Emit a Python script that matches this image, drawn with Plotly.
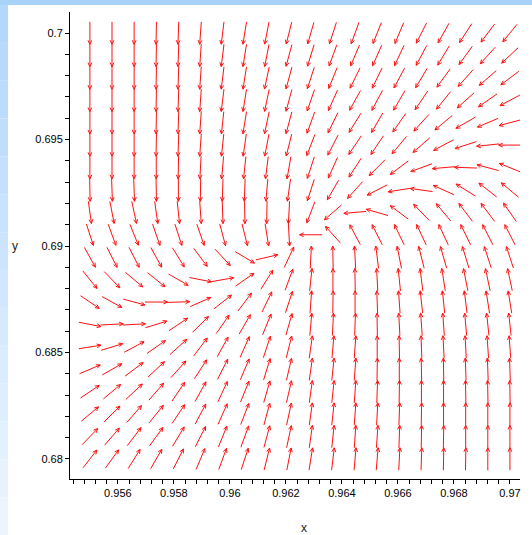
import math
import plotly.graph_objects as go

# ---------------- data ----------------
x_grid = [0.95500, 0.95579, 0.95658, 0.95737, 0.95816, 0.95895, 0.95974,
          0.96053, 0.96132, 0.96211, 0.96289, 0.96368, 0.96447, 0.96526,
          0.96605, 0.96684, 0.96763, 0.96842, 0.96921, 0.97000]
y_grid = [0.70000, 0.69895, 0.69789, 0.69684, 0.69579, 0.69474, 0.69368,
          0.69263, 0.69158, 0.69053, 0.68947, 0.68842, 0.68737, 0.68632,
          0.68526, 0.68421, 0.68316, 0.68211, 0.68105, 0.68000]

# arrow direction on screen, degrees (0 = right, 90 = up), rows top -> bottom
angle_deg = [
    [-90, -90, -90, -91, -92, -94, -97, -99, -101, -104, -106, -108, -110, -112, -113, -117, -119, -123, -127, -129],
    [-90, -90, -90, -91, -92, -94, -97, -99, -101, -105, -107, -110, -113, -114, -115, -118, -121, -126, -132, -137],
    [-90, -90, -90, -91, -92, -94, -97, -99, -102, -105, -108, -112, -116, -116, -118, -121, -126, -132, -139, -143],
    [-90, -90, -90, -91, -92, -94, -97, -99, -102, -105, -109, -114, -119, -118, -120, -124, -129, -138, -145, -152],
    [-90, -90, -90, -91, -92, -94, -96, -99, -102, -105, -110, -116, -122, -120, -125, -132, -140, -150, -157, -165],
    [-90, -90, -90, -91, -92, -94, -96, -98, -101, -104, -111, -117, -124, -124, -130, -139, -152, -162, -174, -180],
    [-90, -90, -90, -90, -91, -93, -95, -96, -97, -100, -108, -114, -123, -135, -143, -160, -175, 178, 165, 158],
    [-89, -88, -88, -89, -90, -91, -92, -92, -95, -98, -108, -120, -132, -153, -171, 172, 156, 148, 142, 140],
    [-82, -79, -78, -82, -84, -86, -88, -89, -91, -93, -111, -139, -175, 164, 143, 134, 130, 127, 127, 125],
    [-72, -70, -68, -71, -72, -71, -75, -76, -81, -87, 180, 132, 118, 117, 116, 115, 115, 116, 117, 117],
    [-61, -63, -63, -61, -58, -53, -47, -31, 13, 65, 87, 91, 93, 97, 101, 104, 106, 107, 108, 108],
    [-51, -46, -40, -39, -30, -11, 10, 35, 58, 70, 84, 90, 91, 93, 96, 97, 99, 101, 102, 102],
    [-34, -29, -15, 0, 2, 24, 38, 53, 64, 72, 86, 89, 90, 92, 94, 96, 96, 97, 99, 99],
    [-11, 3, 3, 17, 34, 45, 55, 60, 68, 74, 85, 87, 88, 91, 93, 94, 94, 95, 96, 96],
    [9, 17, 28, 35, 42, 53, 61, 66, 72, 76, 82, 85, 86, 90, 91, 92, 93, 93, 94, 94],
    [23, 30, 37, 43, 48, 57, 63, 67, 73, 77, 82, 84, 86, 89, 90, 91, 91, 92, 92, 92],
    [34, 40, 43, 49, 56, 61, 65, 68, 74, 77, 82, 84, 86, 88, 89, 90, 90, 91, 91, 91],
    [40, 45, 49, 51, 56, 62, 66, 69, 75, 78, 82, 84, 86, 87, 88, 89, 90, 90, 90, 90],
    [46, 49, 53, 54, 59, 63, 68, 70, 75, 78, 82, 84, 86, 86, 88, 89, 89, 90, 90, 90],
    [52, 54, 58, 60, 63, 67, 70, 72, 76, 79, 81, 83, 85, 85, 87, 88, 89, 89, 90, 90],
]

x_tick_vals = [0.956, 0.958, 0.96, 0.962, 0.964, 0.966, 0.968, 0.97]
x_tick_text = ["0.956", "0.958", "0.96", "0.962", "0.964", "0.966", "0.968", "0.97"]
y_tick_vals = [0.68, 0.685, 0.69, 0.695, 0.7]
y_tick_text = ["0.68", "0.685", "0.69", "0.695", "0.7"]

# ---------------- layout geometry / style ----------------
W, H = 532, 535
ML, MR, MT, MB = 70, 12, 12, 56
X_RANGE = [0.95429, 0.97036]
Y_RANGE = [0.67906, 0.70099]
PW, PH = W - ML - MR, H - MT - MB
px_per_x = PW / (X_RANGE[1] - X_RANGE[0])
px_per_y = PH / (Y_RANGE[1] - Y_RANGE[0])

ARROW_LEN = 22.5   # px
HEAD_LEN = 4.5     # px
HEAD_ANG = 25.0    # deg

xs, ys = [], []
for r, yv in enumerate(y_grid):
    for c, xv in enumerate(x_grid):
        a = math.radians(angle_deg[r][c])
        ux, uy = math.cos(a), math.sin(a)
        hx, hy = ux * ARROW_LEN / 2, uy * ARROW_LEN / 2
        tail = (xv - hx / px_per_x, yv - hy / px_per_y)
        tip = (xv + hx / px_per_x, yv + hy / px_per_y)
        xs += [tail[0], tip[0], None]
        ys += [tail[1], tip[1], None]
        for s in (1, -1):
            b = a + math.pi + s * math.radians(HEAD_ANG)
            bx = tip[0] + math.cos(b) * HEAD_LEN / px_per_x
            by = tip[1] + math.sin(b) * HEAD_LEN / px_per_y
            xs += [tip[0], bx, None]
            ys += [tip[1], by, None]

fig = go.Figure()
fig.add_trace(go.Scatter(x=xs, y=ys, mode="lines",
                         line=dict(color="#ff1010", width=1),
                         hoverinfo="skip", showlegend=False))

def pxp(px):
    return (px - ML) / PW

def pyp(py):
    return (H - MB - py) / PH

shapes = []
# top blue strip
shapes.append(dict(type="rect", xref="paper", yref="paper", layer="above",
                   x0=pxp(0), x1=pxp(W), y0=pyp(5), y1=pyp(0),
                   fillcolor="#a9d2fb", line=dict(width=0)))
# left gradient strip
n = 14
c0 = (0xb3, 0xd8, 0xfc)
c1 = (0xec, 0xf5, 0xfe)
for i in range(n):
    t = i / (n - 1)
    col = "rgb(%d,%d,%d)" % tuple(int(c0[k] + (c1[k] - c0[k]) * t) for k in range(3))
    y0p = 5 + (H - 5) * i / n
    y1p = 5 + (H - 5) * (i + 1) / n
    shapes.append(dict(type="rect", xref="paper", yref="paper", layer="above",
                       x0=pxp(0), x1=pxp(8), y0=pyp(y1p), y1=pyp(y0p),
                       fillcolor=col, line=dict(width=0)))

font = dict(family="Liberation Sans, Arial, sans-serif", size=11, color="black")

fig.update_layout(
    width=W, height=H,
    margin=dict(l=ML, r=MR, t=MT, b=MB, pad=0),
    paper_bgcolor="white", plot_bgcolor="white",
    font=font,
    shapes=shapes,
    xaxis=dict(range=X_RANGE, showgrid=False, zeroline=False, automargin=False,
               showline=True, linecolor="black", linewidth=1,
               tickmode="array", tickvals=x_tick_vals, ticktext=x_tick_text,
               ticks="outside", ticklen=4, tickcolor="black", tickfont=font,
               minor=dict(ticks="outside", tickmode="linear", tick0=0.956, dtick=0.0004,
                          ticklen=4, tickcolor="black", showgrid=False)),
    yaxis=dict(range=Y_RANGE, showgrid=False, zeroline=False, automargin=False,
               showline=True, linecolor="black", linewidth=1,
               tickmode="array", tickvals=y_tick_vals, ticktext=y_tick_text,
               ticks="outside", ticklen=4, tickcolor="black", tickfont=font,
               minor=dict(ticks="outside", tickmode="linear", tick0=0.68, dtick=0.001,
                          ticklen=4, tickcolor="black", showgrid=False)),
    annotations=[
        dict(text="x", xref="paper", yref="paper", x=pxp(304), y=pyp(528),
             showarrow=False, xanchor="center", yanchor="middle",
             font=dict(family="Liberation Sans, Arial, sans-serif", size=12, color="#222")),
        dict(text="y", xref="paper", yref="paper", x=pxp(15), y=pyp(246),
             showarrow=False, xanchor="center", yanchor="middle",
             font=dict(family="Liberation Sans, Arial, sans-serif", size=12, color="#222")),
    ],
)

fig.write_html("out.html",
               config={"displayModeBar": False},
               post_script="document.body.style.margin='0';document.body.style.overflow='hidden';"
                           "document.body.style.background='#ffffff';")
